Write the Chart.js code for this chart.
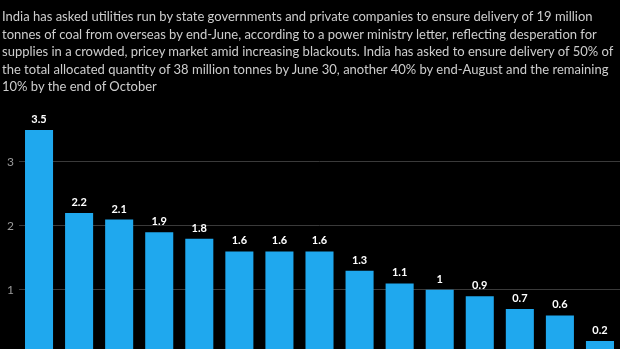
<!DOCTYPE html>
<html>
<head>
<meta charset="utf-8">
<script src="https://cdn.jsdelivr.net/npm/chart.js@4.4.1/dist/chart.umd.min.js"></script>
<style>
  html, body { margin: 0; padding: 0; background: #000; overflow: hidden; }
  #wrap { position: relative; width: 620px; height: 349px; overflow: hidden; }
  #chartBox { position: absolute; left: 0; top: 0; width: 620px; height: 366px; }
  #intro {
    position: absolute; left: 2px; top: 8px; width: 616px; white-space: nowrap;
    font-family: Lato, "Open Sans", sans-serif; font-size: 13px; line-height: 17.5px;
    color: #cdcdcd; z-index: 2;
  }
</style>
</head>
<body>
<div id="wrap">
  <div id="intro">India has asked utilities run by state governments and private companies to ensure delivery of 19 million<br>tonnes of coal from overseas by end-June, according to a power ministry letter, reflecting desperation for<br>supplies in a crowded, pricey market amid increasing blackouts. India has asked to ensure delivery of 50% of<br>the total allocated quantity of 38 million tonnes by June 30, another 40% by end-August and the remaining<br>10% by the end of October</div>
  <div id="chartBox"><canvas id="c" width="620" height="366"></canvas></div>
</div>
<script>
// Allocated imports, million tonnes, largest to smallest
const categories = ["A", "B", "C", "D", "E", "F", "G", "H", "I", "J", "K", "L", "M", "N", "O"];
const tonnes = [3.5, 2.2, 2.1, 1.9, 1.8, 1.6, 1.6, 1.6, 1.3, 1.1, 1, 0.9, 0.7, 0.6, 0.2];
const yTicks = [0, 1, 2, 3];

// Writes each bar's value just above its top
const valueLabels = {
  id: "valueLabels",
  afterDatasetsDraw(chart) {
    const ctx = chart.ctx;
    const meta = chart.getDatasetMeta(0);
    ctx.save();
    ctx.fillStyle = "#ffffff";
    ctx.font = "bold 11px Lato, sans-serif";
    ctx.textAlign = "center";
    ctx.textBaseline = "alphabetic";
    meta.data.forEach((bar, i) => {
      ctx.fillText(String(tonnes[i]), bar.x, bar.y - 7);
    });
    ctx.restore();
  }
};

new Chart(document.getElementById("c"), {
  type: "bar",
  data: {
    labels: categories,
    datasets: [{
      data: tonnes,
      backgroundColor: "#1fa8ee",
      borderWidth: 0,
      categoryPercentage: 1,
      barPercentage: 0.7
    }]
  },
  options: {
    responsive: false,
    animation: false,
    layout: { padding: { top: 98, right: 0, bottom: 2, left: 0 } },
    plugins: { legend: { display: false }, tooltip: { enabled: false } },
    scales: {
      x: { display: false },
      y: {
        min: 0,
        max: 4,
        afterBuildTicks(scale) { scale.ticks = yTicks.map(v => ({ value: v })); },
        afterFit(scale) { scale.width = 19; },
        border: { display: false },
        grid: {
          drawTicks: false,
          color: ctx => (ctx.tick && ctx.tick.value === 0) ? "rgba(0,0,0,0)" : "#3a3a3a",
          lineWidth: 1
        },
        ticks: {
          color: "#9a9a9a",
          padding: 5,
          font: { family: "Lato, sans-serif", size: 12 },
          callback: v => (v === 0 ? "" : String(v))
        }
      }
    }
  },
  plugins: [valueLabels]
});
</script>
</body>
</html>
